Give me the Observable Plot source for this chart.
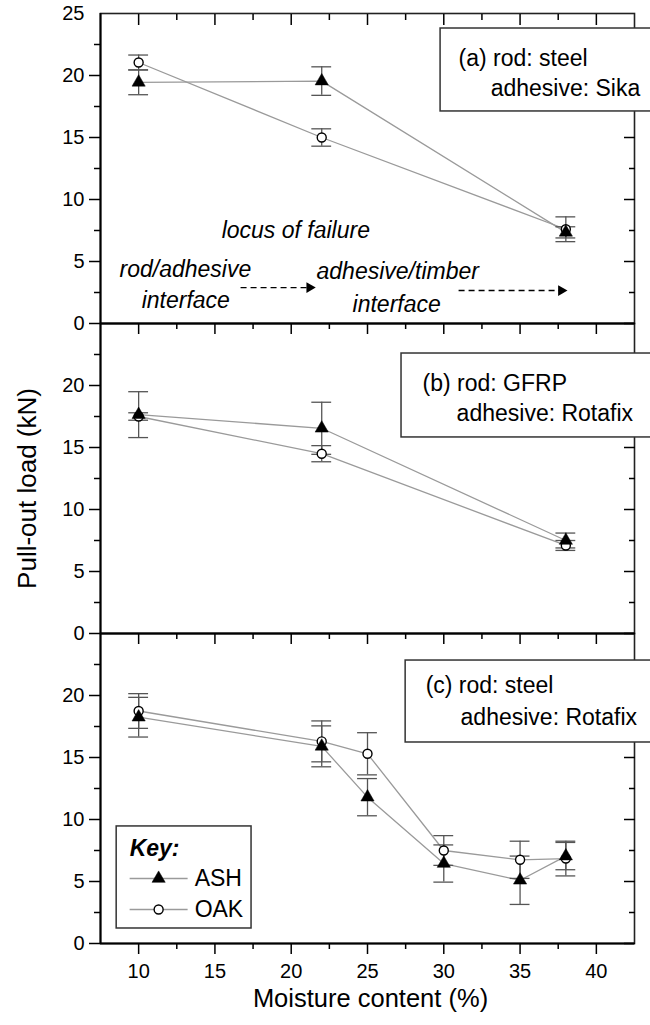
<!DOCTYPE html>
<html><head><meta charset="utf-8">
<script src="https://cdn.jsdelivr.net/npm/d3@7"></script>
<script src="https://cdn.jsdelivr.net/npm/@observablehq/plot@0.6"></script>
<style>
html,body{margin:0;padding:0;background:#fff;overflow:hidden;}
#chart svg{display:block;}
</style></head><body><div id="chart"></div>
<script>
// ---------- data ----------
const panels = ["a", "b", "c"];
const moistureA = [10, 22, 38];
const ashA = [19.45, 19.55, 7.35];
const ashAErr = [1.0, 1.15, 0.45];
const oakA = [21.05, 15.0, 7.6];
const oakAErr = [0.6, 0.7, 1.0];

const moistureB = [10, 22, 38];
const ashB = [17.65, 16.55, 7.5];
const ashBErr = [1.85, 2.1, 0.6];
const oakB = [17.5, 14.5, 7.1];
const oakBErr = [0.3, 0.65, 0.4];

const moistureC = [10, 22, 25, 30, 35, 38];
const ashC = [18.25, 15.9, 11.8, 6.45, 5.1, 7.05];
const ashCErr = [1.6, 1.65, 1.5, 1.5, 1.95, 1.1];
const oakC = [18.75, 16.3, 15.3, 7.5, 6.75, 6.85];
const oakCErr = [1.4, 1.65, 1.7, 1.2, 1.5, 1.4];

const species = ["ASH", "OAK"];
const xDomain = [7.5, 42.5];
const yDomain = [0, 25];
const xTicks = [10, 15, 20, 25, 30, 35, 40];
const xMinor = [12.5, 17.5, 22.5, 27.5, 32.5, 37.5];
const yTicks = [0, 5, 10, 15, 20];
const yMinor = [2.5, 7.5, 12.5, 17.5, 22.5];
const yTopLabel = [25];
const panelLine1 = ["(a) rod: steel", "(b) rod: GFRP", "(c) rod: steel"];
const panelLine2 = ["adhesive: Sika", "adhesive: Rotafix", "adhesive: Rotafix"];
const failureNotes = ["locus of failure", "rod/adhesive", "interface", "adhesive/timber", "interface"];
const keyTitle = "Key:";
const xTitle = "Moisture content (%)";
const yTitle = "Pull-out load (kN)";

// ---------- tidy table ----------
const series = [
  ["a", moistureA, ashA, ashAErr, oakA, oakAErr],
  ["b", moistureB, ashB, ashBErr, oakB, oakBErr],
  ["c", moistureC, ashC, ashCErr, oakC, oakCErr]
];
const rows = [];
for (const [panel, xs, ash, ashE, oak, oakE] of series) {
  xs.forEach((x, i) => {
    rows.push({panel, species: species[0], x, y: ash[i], err: ashE[i]});
    rows.push({panel, species: species[1], x, y: oak[i], err: oakE[i]});
  });
}
const ashRows = rows.filter(d => d.species === "ASH");
const oakRows = rows.filter(d => d.species === "OAK");

// ---------- annotation placement (data units) ----------
const notePos = [[15.44, 7.53], [8.75, 4.31], [10.2, 1.81], [21.66, 4.15], [24.02, 1.56]];
const notes = failureNotes.map((t, i) => ({panel: "a", t, x: notePos[i][0], y: notePos[i][1]}));
const arrows = [
  {panel: "a", x1: 16.68, x2: 21.2, y: 2.9},
  {panel: "a", x1: 30.97, x2: 37.7, y: 2.66}
];
const boxPos = [
  {x1: 29.79, y1: 17.1, y2: 23.79, tx1: 30.97, ty1: 21.4, tx2: 33.07, ty2: 18.98},
  {x1: 27.23, y1: 15.81, y2: 22.58, tx1: 28.61, ty1: 20.19, tx2: 30.84, ty2: 17.77},
  {x1: 27.5, y1: 16.21, y2: 22.82, tx1: 28.81, ty1: 20.76, tx2: 31.1, ty2: 18.18}
];
const boxes = panels.map((p, i) => ({panel: p, l1: panelLine1[i], l2: panelLine2[i], ...boxPos[i]}));
const keyRows = species.map((s, i) => ({panel: "c", s, y: [5.24, 2.74][i]}));
const capHalf = 0.65;
const font = "'Liberation Sans', Arial, sans-serif";

const chart = Plot.plot({
  width: 650, height: 1025,
  marginLeft: 100, marginRight: 16, marginTop: 13, marginBottom: 82,
  x: {domain: xDomain},
  y: {domain: yDomain},
  fy: {domain: panels, padding: 0, axis: null},
  style: {fontFamily: font, fontSize: "20px", background: "white", color: "black"},
  marks: [
    // frame & axes
    Plot.frame({stroke: "#222", strokeWidth: 1.6}),
    Plot.ruleY([0], {stroke: "black", strokeWidth: 2}),
    Plot.ruleX([xDomain[0]], {stroke: "black", strokeWidth: 2}),
    Plot.axisY({ticks: yTicks, tickSize: 11, tickPadding: 5, fontSize: 20, strokeWidth: 1.5, label: null}),
    Plot.axisY({ticks: yMinor, tickSize: 6, tickFormat: () => "", strokeWidth: 1.5, label: null}),
    Plot.axisY({anchor: "right", ticks: yTicks, tickSize: 11, dx: -11, tickFormat: () => "", strokeWidth: 1.5, label: null}),
    Plot.axisY({anchor: "right", ticks: yMinor, tickSize: 6, dx: -6, tickFormat: () => "", strokeWidth: 1.5, label: null}),
    Plot.axisX({anchor: "bottom", facetAnchor: null, ticks: xTicks, tickSize: 11, tickFormat: () => "", strokeWidth: 1.5, label: null}),
    Plot.axisX({anchor: "bottom", facetAnchor: null, ticks: xMinor, tickSize: 6, tickFormat: () => "", strokeWidth: 1.5, label: null}),
    Plot.axisX({anchor: "top", ticks: xTicks, tickSize: 11, dy: 11, tickFormat: () => "", strokeWidth: 1.5, label: null}),
    Plot.axisX({anchor: "top", ticks: xMinor, tickSize: 6, dy: 6, tickFormat: () => "", strokeWidth: 1.5, label: null}),
    Plot.axisX({anchor: "bottom", ticks: xTicks, tickSize: 0, tickPadding: 20, fontSize: 20, label: null}),
    Plot.text(yTopLabel, {y: d => d, fy: () => "a", frameAnchor: "left", dx: -16, textAnchor: "end", fontSize: 20}),
    Plot.text([yTitle], {fy: () => "b", frameAnchor: "left", dx: -73, dy: 10, rotate: -90, fontSize: 26, textAnchor: "middle"}),
    Plot.text([xTitle], {fy: () => "c", frameAnchor: "bottom", dx: 3, dy: 63, fontSize: 25.5, textAnchor: "middle"}),

    // data
    Plot.line(rows, {x: "x", y: "y", z: "species", fy: "panel", stroke: "#9a9a9a", strokeWidth: 1.3}),
    Plot.ruleX(rows, {x: "x", y1: d => d.y - d.err, y2: d => d.y + d.err, fy: "panel", stroke: "#555", strokeWidth: 1.3}),
    Plot.ruleY(rows, {y: d => d.y + d.err, x1: d => d.x - capHalf, x2: d => d.x + capHalf, fy: "panel", stroke: "#555", strokeWidth: 1.3}),
    Plot.ruleY(rows, {y: d => d.y - d.err, x1: d => d.x - capHalf, x2: d => d.x + capHalf, fy: "panel", stroke: "#555", strokeWidth: 1.3}),
    Plot.dot(oakRows, {x: "x", y: "y", fy: "panel", symbol: "circle", r: 4.5, fill: "white", stroke: "black", strokeWidth: 1.4}),
    Plot.dot(ashRows, {x: "x", y: "y", fy: "panel", symbol: "triangle", r: 4.9, fill: "black", stroke: "black", strokeWidth: 0.5}),

    // locus-of-failure annotations
    Plot.text(notes, {x: "x", y: "y", fy: "panel", text: "t", textAnchor: "start", fontSize: 23, fontStyle: "italic"}),
    Plot.link(arrows, {x1: "x1", x2: "x2", y1: "y", y2: "y", fy: "panel", stroke: "black", strokeWidth: 1.3, strokeDasharray: "6,4"}),
    Plot.dot(arrows, {x: "x2", y: "y", fy: "panel", symbol: "triangle", rotate: 90, r: 4, fill: "black", stroke: "none"}),

    // panel description boxes
    Plot.rect(boxes, {x1: "x1", x2: () => 44, y1: "y1", y2: "y2", fy: "panel", fill: "white", stroke: "#333", strokeWidth: 1.5}),
    Plot.text(boxes, {x: "tx1", y: "ty1", fy: "panel", text: "l1", textAnchor: "start", fontSize: 23}),
    Plot.text(boxes, {x: "tx2", y: "ty2", fy: "panel", text: "l2", textAnchor: "start", fontSize: 23}),

    // key
    Plot.rect([{panel: "c"}], {x1: () => 8.56, x2: () => 17.4, y1: () => 1.21, y2: () => 9.44, fy: "panel", fill: "white", stroke: "#333", strokeWidth: 1.5}),
    Plot.text([{panel: "c", t: keyTitle}], {x: () => 9.41, y: () => 7.69, fy: "panel", text: "t", textAnchor: "start", fontSize: 23, fontWeight: "bold", fontStyle: "italic"}),
    Plot.link(keyRows, {x1: () => 9.41, x2: () => 13.21, y1: "y", y2: "y", fy: "panel", stroke: "#9a9a9a", strokeWidth: 1.3}),
    Plot.dot(keyRows.filter(d => d.s === "OAK"), {x: () => 11.31, y: "y", fy: "panel", symbol: "circle", r: 4.5, fill: "white", stroke: "black", strokeWidth: 1.4}),
    Plot.dot(keyRows.filter(d => d.s === "ASH"), {x: () => 11.31, y: "y", fy: "panel", symbol: "triangle", r: 4.9, fill: "black", stroke: "black", strokeWidth: 0.5}),
    Plot.text(keyRows, {x: () => 13.67, y: "y", fy: "panel", text: "s", textAnchor: "start", fontSize: 23})
  ]
});
document.getElementById("chart").appendChild(chart);
</script>
</body></html>
